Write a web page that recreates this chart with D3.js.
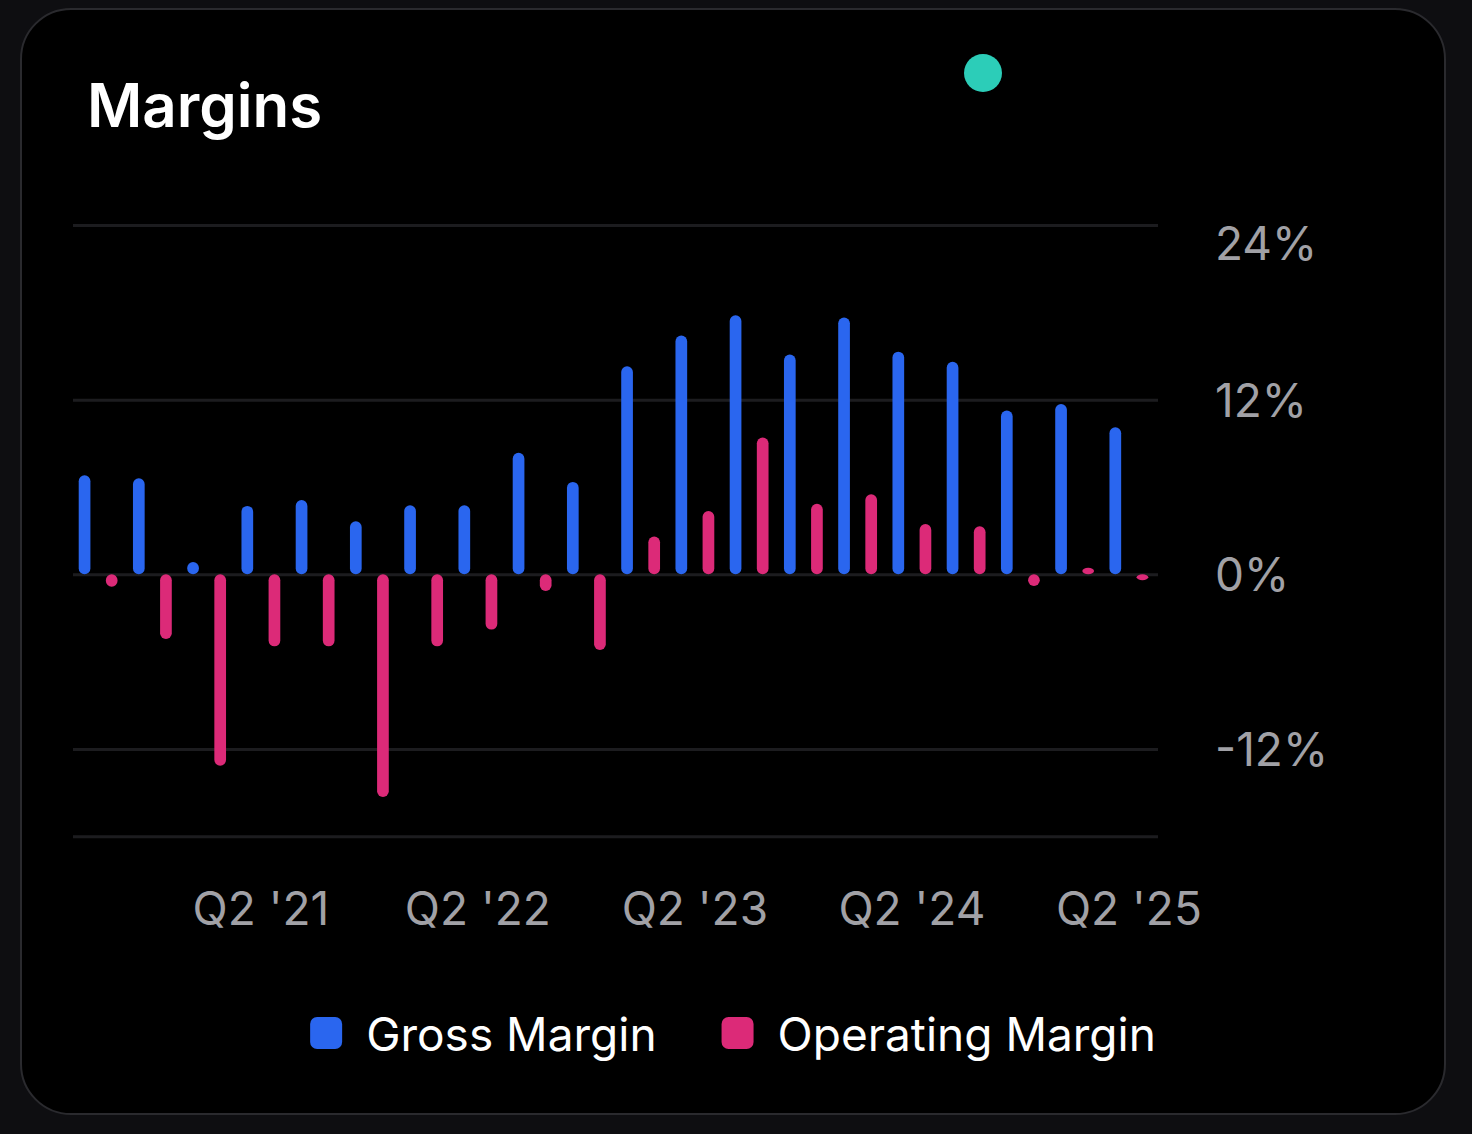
<!DOCTYPE html>
<html>
<head>
  <meta charset="utf-8">
  <title>Margins</title>
  <style>
    html, body {
      margin: 0;
      padding: 0;
      background: #0e0e11;
    }
    svg {
      display: block;
      font-family: Inter, "Noto Sans", sans-serif;
    }
  </style>
</head>
<body>
  <svg id="chart" width="1472" height="1134"></svg>
  <script src="https://d3js.org/d3.v7.min.js"></script>
  <script>
    // quarters Q3 '20 .. Q2 '25
    const quarters = [
      "Q3 '20", "Q4 '20", "Q1 '21", "Q2 '21", "Q3 '21", "Q4 '21", "Q1 '22", "Q2 '22",
      "Q3 '22", "Q4 '22", "Q1 '23", "Q2 '23", "Q3 '23", "Q4 '23", "Q1 '24", "Q2 '24",
      "Q3 '24", "Q4 '24", "Q1 '25", "Q2 '25"
    ];
    const grossMargin = [6.8, 6.6, 0.85, 4.7, 5.1, 3.65, 4.75, 4.75, 8.35, 6.35,
                         14.3, 16.4, 17.8, 15.1, 17.65, 15.3, 14.6, 11.25, 11.7, 10.1];
    const operatingMargin = [-0.85, -4.45, -13.15, -4.95, -4.95, -15.3, -4.95, -3.8, -1.15, -5.2,
                             2.6, 4.35, 9.4, 4.85, 5.5, 3.45, 3.3, -0.8, 0.45, -0.4];
    const seriesKeys = ["Gross Margin", "Operating Margin"];
    const seriesColors = ["#2a66ef", "#dc2a78"];
    const yTicks = [-18, -12, 0, 12, 24];
    const yTickLabels = ["", "-12%", "0%", "12%", "24%"];
    const xTickLabels = ["Q2 '21", "Q2 '22", "Q2 '23", "Q2 '24", "Q2 '25"];

    const rows = quarters.map((q, i) => ({ q, values: [grossMargin[i], operatingMargin[i]] }));

    const svg = d3.select("#chart");

    // card
    svg.append("rect")
      .attr("x", 21).attr("y", 9)
      .attr("width", 1424).attr("height", 1105)
      .attr("rx", 50)
      .attr("fill", "#000")
      .attr("stroke", "#2a2a2e")
      .attr("stroke-width", 2);

    svg.append("text")
      .attr("x", 87).attr("y", 127)
      .attr("fill", "#fff")
      .attr("font-size", 60)
      .attr("font-weight", 600)
      .text("Margins");

    svg.append("circle")
      .attr("cx", 983).attr("cy", 73).attr("r", 19)
      .attr("fill", "#2ccdb8");

    const plotLeft = 73, plotRight = 1158;
    const x = d3.scaleBand().domain(quarters).range([71, 1156]).padding(0);
    const xInner = d3.scaleBand().domain(seriesKeys).range([0, x.bandwidth()]).padding(0);
    const y = d3.scaleLinear().domain([-18, 24]).range([836.3, 225]);
    const barW = 11.7;

    // grid + right labels
    const yAxis = d3.axisRight(y)
      .tickValues(yTicks)
      .tickSize(-(plotRight - plotLeft))
      .tickPadding(57)
      .tickFormat((d, i) => yTickLabels[i]);

    const yg = svg.append("g")
      .attr("transform", `translate(${plotRight},0)`)
      .call(yAxis);
    yg.select(".domain").remove();
    yg.selectAll(".tick line")
      .attr("stroke", "#1c1c1f")
      .attr("stroke-width", 3);
    yg.selectAll(".tick text")
      .attr("fill", "#a1a1a6")
      .attr("font-size", 46)
      .attr("font-family", "Inter, 'Noto Sans', sans-serif")
      .attr("text-anchor", "start")
      .attr("dy", d => d === 24 ? "0.74em" : "0.36em");

    // bars
    const groups = svg.append("g")
      .selectAll("g")
      .data(rows)
      .join("g")
      .attr("transform", d => `translate(${x(d.q)},0)`);

    groups.selectAll("rect")
      .data(d => d.values.map((v, k) => ({ key: seriesKeys[k], v, k })))
      .join("rect")
      .attr("x", d => xInner(d.key) + xInner.bandwidth() / 2 - barW / 2)
      .attr("width", barW)
      .attr("y", d => y(Math.max(d.v, 0)))
      .attr("height", d => Math.abs(y(d.v) - y(0)))
      .attr("rx", barW / 2)
      .attr("fill", d => seriesColors[d.k]);

    // x labels
    const xAxis = d3.axisBottom(x)
      .tickValues(xTickLabels)
      .tickSize(0)
      .tickPadding(0);
    const xg = svg.append("g")
      .attr("transform", "translate(0,925)")
      .call(xAxis);
    xg.select(".domain").remove();
    xg.selectAll(".tick text")
      .attr("fill", "#a1a1a6")
      .attr("font-size", 46)
      .attr("font-family", "Inter, 'Noto Sans', sans-serif")
      .attr("y", 0)
      .attr("dy", 0);

    // legend
    const legend = svg.append("g");
    const items = legend.selectAll("g")
      .data(seriesKeys)
      .join("g");
    items.append("rect")
      .attr("width", 32).attr("height", 32)
      .attr("y", 1017)
      .attr("rx", 7)
      .attr("fill", (d, i) => seriesColors[i]);
    items.append("text")
      .attr("x", 56)
      .attr("y", 1051)
      .attr("fill", "#fff")
      .attr("font-size", 46)
      .text(d => d);

    const widths = [];
    items.each(function () {
      widths.push(56 + d3.select(this).select("text").node().getComputedTextLength());
    });
    const gap = 65;
    const total = d3.sum(widths) + gap * (widths.length - 1);
    let cur = 733 - total / 2;
    items.attr("transform", (d, i) => {
      const t = `translate(${cur},0)`;
      cur += widths[i] + gap;
      return t;
    });
  </script>
</body>
</html>
